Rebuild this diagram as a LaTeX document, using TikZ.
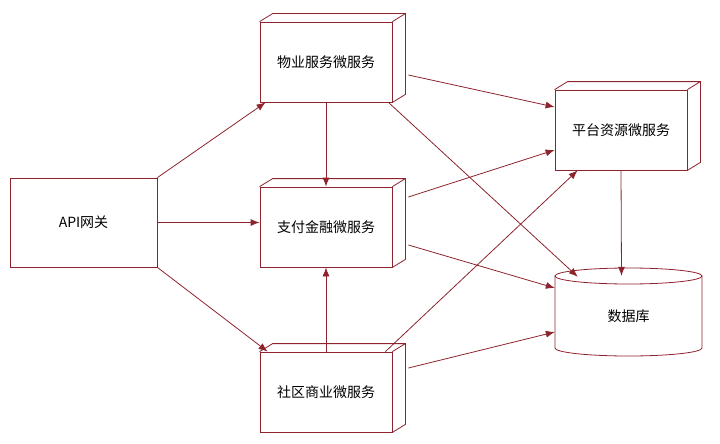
\documentclass[tikz,border=0pt]{standalone}
\usepackage{fontspec}
\setmainfont{Noto Sans CJK SC}
\usetikzlibrary{positioning,calc,arrows.meta}
\definecolor{linered}{RGB}{140,35,45}
\begin{document}
\begin{tikzpicture}[
        x=1pt, y=-1pt,
        box/.style={rectangle, draw=linered, thick, fill=white, minimum width=132pt, minimum height=80pt, font=\fontsize{14}{16}\selectfont},
        edge/.style={draw=linered, thick, -{Latex[length=9pt,width=7pt]}}
    ]
        \useasboundingbox (0,0) rectangle (720,444);
        % Database cylinder
        \draw[linered, thick] (555,276) -- (555,348) arc[start angle=180, end angle=0, x radius=73.5, y radius=8] -- (702,276);
        \draw[linered, thick] (628.5,276) ellipse [x radius=73.5, y radius=8];

        % Nodes
        \node[box, minimum width=147pt, minimum height=89pt] (api) at (83.5,222.5) {API网关};
        \node[box] (wy) at (326,62) {物业服务微服务};
        \node[box] (zf) at (326,227) {支付金融微服务};
        \node[box] (sq) at (326,392) {社区商业微服务};
        \node[box] (pt) at (621,130) {平台资源微服务};
        \node[rectangle, minimum width=147pt, minimum height=80pt, font=\fontsize{14}{16}\selectfont] (db) at (628.5,316) {数据库};

        % 3D depth of the service boxes
        \foreach \n in {wy,zf,sq,pt}
            \draw[linered, thick] (\n.north west) -- ++(13,-8) -- ($(\n.north east)+(13,-8)$) -- ($(\n.south east)+(13,-8)$) -- (\n.south east)
                (\n.north east) -- ++(13,-8);

        % Connections
        \draw[edge] (api.north east) -- ([xshift=6pt]wy.south west);
        \draw[edge] (api.east) -- (zf.west |- api.east);
        \draw[edge] (api.south east) -- ([xshift=8pt]sq.north west);
        \draw[edge] (wy.south) -- (zf.north);
        \draw[edge] (sq.north) -- (zf.south);
        \draw[edge] ([shift={(16,13)}]wy.east) -- ([yshift=23pt]pt.west);
        \draw[edge] ([xshift=-4pt]wy.south east) -- ([xshift=23pt,yshift=-1pt]db.north west);
        \draw[edge] ([shift={(16,-30)}]zf.east) -- ([yshift=-20pt]pt.west);
        \draw[edge] ([shift={(16,18)}]zf.east) -- ([yshift=28pt]db.west);
        \draw[edge] ([xshift=-7pt]sq.north east) -- ([xshift=23pt]pt.south west);
        \draw[edge] ([shift={(16,-24)}]sq.east) -- ([yshift=-16pt]db.west);
        \draw[edge] (pt.south) -- ([xshift=-7pt]db.north);
\end{tikzpicture}
\end{document}
